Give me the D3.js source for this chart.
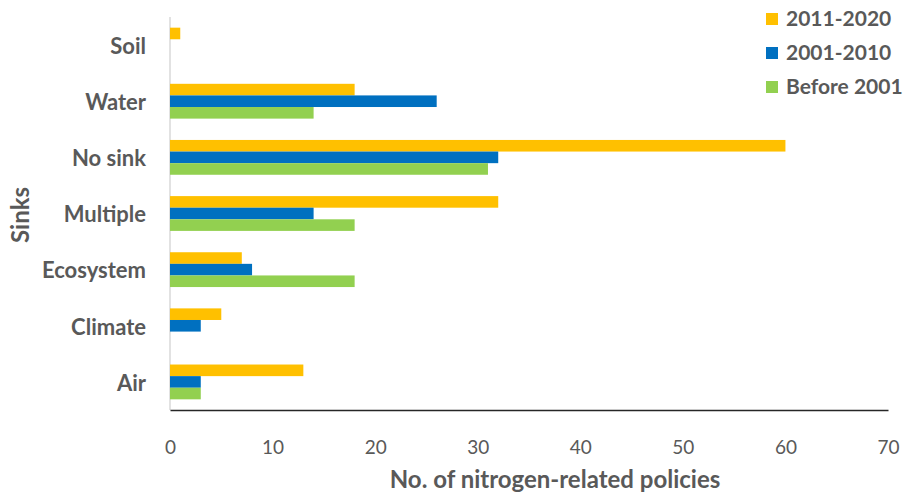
<!DOCTYPE html>
<html lang="en">
<head>
  <meta charset="UTF-8">
  <title>Nitrogen policies by sink</title>
  <script src="https://d3js.org/d3.v7.min.js"></script>
  <style>
    body { margin: 0; padding: 0; background: #fff; }
    svg text { font-family: Lato, "Open Sans", sans-serif; fill: #595959; }
  </style>
</head>
<body>
  <div id="chart"></div>
  <script>
    const sinks = ["Soil", "Water", "No sink", "Multiple", "Ecosystem", "Climate", "Air"];
    const periods = ["2011-2020", "2001-2010", "Before 2001"];
    const v2011_2020 = [1, 18, 60, 32, 7, 5, 13];
    const v2001_2010 = [0, 26, 32, 14, 8, 3, 3];
    const vBefore2001 = [0, 14, 31, 18, 18, 0, 3];
    const xTicks = [0, 10, 20, 30, 40, 50, 60, 70];
    const colors = ["#FFC000", "#0070C0", "#92D050"];

    const series = [v2011_2020, v2001_2010, vBefore2001];

    const width = 905, height = 494;
    const svg = d3.select("#chart").append("svg")
      .attr("width", width)
      .attr("height", height);

    const x = d3.scaleLinear().domain([0, 70]).range([170, 888]);
    const y = d3.scaleBand().domain(sinks).range([17, 410]).paddingInner(0.38).paddingOuter(0.19);
    const inner = d3.scaleBand().domain(periods).range([0, y.bandwidth()]);

    // vertical axis line
    svg.append("line")
      .attr("x1", x(0)).attr("x2", x(0))
      .attr("y1", 17).attr("y2", 410)
      .attr("stroke", "#d9d9d9").attr("stroke-width", 1.5);

    // bars
    periods.forEach((p, i) => {
      svg.append("g").selectAll("rect")
        .data(sinks.map((s, j) => ({ sink: s, value: series[i][j] })))
        .join("rect")
        .attr("x", x(0))
        .attr("y", d => y(d.sink) + inner(p))
        .attr("width", d => x(d.value) - x(0))
        .attr("height", inner.bandwidth())
        .attr("fill", colors[i]);
    });

    // bottom axis
    const xAxis = svg.append("g")
      .attr("transform", "translate(0,410)")
      .call(d3.axisBottom(x).tickValues(xTicks).tickSize(0).tickPadding(31));
    xAxis.select(".domain").attr("stroke", "#262626").attr("stroke-width", 1.3);
    xAxis.selectAll("text")
      .style("font-size", "19px")
      .style("font-family", "Lato, sans-serif")
      .attr("fill", "#000");

    // category labels
    const yAxis = svg.append("g")
      .attr("transform", `translate(${x(0)},0)`)
      .call(d3.axisLeft(y).tickSize(0).tickPadding(24));
    yAxis.select(".domain").remove();
    yAxis.selectAll("text")
      .attr("dy", "0.4em")
      .style("font-size", "22px")
      .style("font-weight", "bold")
      .attr("fill", "#595959");

    // axis titles
    svg.append("text")
      .attr("x", 555).attr("y", 488)
      .attr("text-anchor", "middle")
      .style("font-size", "24px")
      .style("font-weight", "bold")
      .text("No. of nitrogen-related policies");

    svg.append("text")
      .attr("transform", "translate(29,215) rotate(-90)")
      .attr("text-anchor", "middle")
      .style("font-size", "24px")
      .style("font-weight", "bold")
      .text("Sinks");

    // legend
    const legend = svg.append("g").attr("transform", "translate(766,13)");
    periods.forEach((p, i) => {
      const row = legend.append("g").attr("transform", `translate(0,${i * 34})`);
      row.append("rect")
        .attr("width", 12).attr("height", 12)
        .attr("fill", colors[i]);
      row.append("text")
        .attr("x", 20).attr("y", 6)
        .attr("dy", "0.35em")
        .style("font-size", "21px")
        .style("font-weight", "bold")
        .text(p);
    });
  </script>
</body>
</html>
